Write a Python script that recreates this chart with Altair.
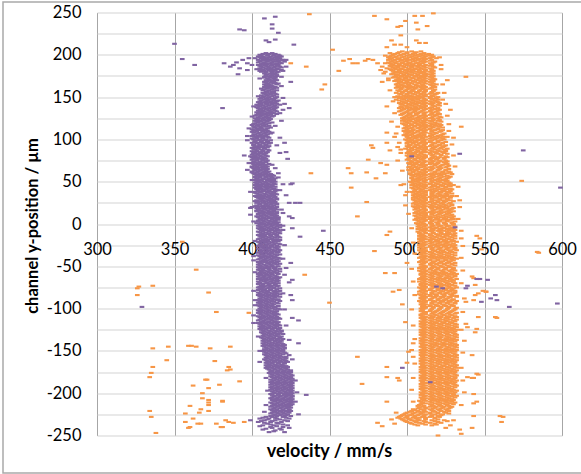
import altair as alt
import pandas as pd

# Axis ticks
x_ticks = [300, 350, 400, 450, 500, 550, 600]
y_ticks = [-250, -225, -200, -175, -150, -125, -100, -75, -50, -25, 0,
           25, 50, 75, 100, 125, 150, 175, 200, 225, 250]

# Purple series, dense band: "y: velocities at that y" (even y)
purple_band = [
    "202: 409 413", "200: 405 410 414 417", "198: 404 407 412 416 419",
    "196: 406 409 413 418", "194: 404 408 411 415 419", "192: 405 410 414 417",
    "190: 407 409 412 416 419", "188: 404 408 413 417", "186: 406 410 415 418",
    "184: 405 409 412 416", "182: 407 411 414 419", "180: 406 409 413 417",
    "178: 408 412 415", "176: 409 413 416", "174: 408 411 415", "172: 410 414",
    "170: 409 412 416", "168: 408 413", "166: 410 414 417", "164: 409 412",
    "162: 408 411 415", "160: 410 414", "158: 407 411 416", "156: 409 413",
    "154: 408 412 415", "152: 406 410 414", "150: 407 411 416", "148: 405 409 413",
    "146: 406 410 414 417", "144: 404 408 412 415", "142: 405 409 413 416",
    "140: 404 407 411 415", "138: 403 408 412 416", "136: 405 409 414",
    "134: 404 407 411 415", "132: 403 406 410 413", "130: 405 409 412 416",
    "128: 402 406 410 414", "126: 404 408 411", "124: 403 407 412",
    "122: 402 405 409", "120: 404 408 413", "118: 401 405 409", "116: 403 407 411",
    "114: 402 406 412", "112: 400 404 408", "110: 403 407 410",
    "108: 401 405 409 413", "106: 402 406 410", "104: 400 404 408",
    "102: 403 407 411", "100: 401 405 409", "98: 402 406 410",
    "96: 400 404 408 412", "94: 401 405 409", "92: 403 407 411", "90: 400 404 408",
    "88: 402 406 410", "86: 400 403 407", "84: 401 405 409", "82: 400 404 408",
    "80: 399 402 406 410", "78: 401 404 408", "76: 400 403 407", "74: 401 405 409",
    "72: 400 404 407", "70: 402 405 409", "68: 400 403 407 410", "66: 401 404 408",
    "64: 402 406 409", "62: 400 404 408 411", "60: 401 405 409",
    "58: 403 406 410 413", "56: 402 405 409 412", "54: 403 407 411 415",
    "52: 402 406 410 413", "50: 404 408 412 415", "48: 403 407 410 414",
    "46: 402 405 409 413", "44: 404 408 411 415", "42: 403 406 410 414",
    "40: 404 407 411 416", "38: 402 406 410 413", "36: 403 408 412 415",
    "34: 404 407 411 414", "32: 403 406 410 415", "30: 405 408 412 416",
    "28: 403 407 411 414", "26: 404 408 412 415", "24: 405 409 413 416",
    "22: 403 407 410 414", "20: 404 408 412 416", "18: 405 409 413 415",
    "16: 403 406 410 414", "14: 405 408 412 416", "12: 404 407 411 415",
    "10: 406 409 413 416", "8: 404 408 412 417", "6: 405 409 413 416",
    "4: 404 407 411 415", "2: 406 410 414 417", "0: 405 408 412 416",
    "-2: 404 409 413 417", "-4: 406 410 414 418", "-6: 405 408 412 416",
    "-8: 407 411 415 418", "-10: 405 409 413 417", "-12: 406 410 414",
    "-14: 405 408 412 416", "-16: 407 411 415 418", "-18: 404 408 412 416",
    "-20: 406 410 414 417", "-22: 405 409 413", "-24: 406 410 414 418",
    "-26: 404 408 412 416", "-28: 407 411 415", "-30: 405 409 413 417",
    "-32: 406 410 414", "-34: 404 408 412 416", "-36: 407 411 415 418",
    "-38: 405 409 413", "-40: 406 410 414 417", "-42: 404 408 412 416",
    "-44: 406 409 413 417", "-46: 405 410 414", "-48: 404 408 412 416",
    "-50: 406 410 413 417", "-52: 405 409 414", "-54: 404 407 411 415",
    "-56: 406 410 414 418", "-58: 405 408 412 416", "-60: 406 410 413",
    "-62: 404 408 412 416", "-64: 405 409 414 417", "-66: 406 410 413",
    "-68: 404 408 412 416", "-70: 405 409 413 417", "-72: 407 411 415",
    "-74: 405 408 412 416", "-76: 406 410 414 418", "-78: 404 408 412",
    "-80: 406 410 414 417", "-82: 405 409 413 416", "-84: 404 407 411 415",
    "-86: 406 410 414 418", "-88: 405 409 413", "-90: 404 408 412 416",
    "-92: 406 410 414", "-94: 405 409 413 417", "-96: 404 408 412",
    "-98: 406 410 415", "-100: 405 409 413 417", "-102: 404 407 411",
    "-104: 406 410 414", "-106: 405 409 413 416", "-108: 407 411 415",
    "-110: 405 408 412 416", "-112: 406 410 414 418", "-114: 404 408 413",
    "-116: 406 410 414 417", "-118: 405 409 413", "-120: 407 411 415 418",
    "-122: 406 410 414", "-124: 405 409 413 417", "-126: 407 411 415 419",
    "-128: 406 410 414", "-130: 408 412 416 420", "-132: 407 411 415",
    "-134: 406 410 414 418", "-136: 408 412 416 420", "-138: 407 411 415 419",
    "-140: 409 413 417", "-142: 408 412 416 420", "-144: 407 411 415 419",
    "-146: 409 413 417 421", "-148: 408 412 416", "-150: 407 411 415 419",
    "-152: 409 413 417 421", "-154: 408 412 416 420", "-156: 410 414 418",
    "-158: 409 413 417 421", "-160: 408 412 416 420", "-162: 410 414 418 422",
    "-164: 409 413 417 421", "-166: 411 415 419", "-168: 410 414 418 422",
    "-170: 409 413 417 421", "-172: 411 415 419 423", "-174: 412 416 420 424",
    "-176: 411 415 419 423", "-178: 413 417 421 425", "-180: 412 416 420 424",
    "-182: 414 418 422 425", "-184: 412 416 420 424", "-186: 413 417 421 425",
    "-188: 414 418 422 426", "-190: 412 416 420 424", "-192: 413 417 421 425",
    "-194: 414 418 422 426", "-196: 412 416 420 424", "-198: 413 417 421 425",
    "-200: 415 419 423 426", "-202: 413 417 421 425", "-204: 414 418 422 426",
    "-206: 412 416 420 424", "-208: 413 417 421 425", "-210: 415 419 423 426",
    "-212: 413 416 420 424", "-214: 414 418 422 425", "-216: 412 417 421 424",
    "-218: 414 418 422", "-220: 413 416 420 424", "-222: 415 419 423",
    "-224: 412 417 421", "-226: 414 418 422", "-228: 409 413 420",
    "-230: 405 411 416 424", "-232: 408 415 421", "-234: 404 412 419",
    "-236: 410 417", "-238: 407 414 423", "-240: 412 420", "-242: 409 418",
    "-244: 415", "-246: 411 421",
]

# Purple series, dense band (odd y)
purple_band_odd = [
    "201: 407 411 415", "199: 406 410 414 418", "197: 405 408 411 415 417",
    "195: 407 410 413 416", "193: 406 409 412 417", "191: 404 408 413 418",
    "189: 406 410 415", "187: 405 409 412 416", "185: 407 411 414 419",
    "183: 406 410 413 417", "181: 405 408 412 415", "179: 409 413 416",
    "177: 410 414", "175: 409 412 416", "173: 408 412 415", "171: 411 415",
    "169: 410 414", "167: 409 412 415", "165: 408 411 416", "163: 410 413",
    "161: 409 412 416", "159: 408 413", "157: 410 414", "155: 407 410 414",
    "153: 409 412 416", "151: 408 413", "149: 406 410 415", "147: 408 411 414",
    "145: 405 409 412 416", "143: 406 410 414", "141: 403 406 410 413",
    "139: 405 409 414", "137: 404 407 411 415", "135: 406 410 413",
    "133: 405 408 412 416", "131: 404 407 411 414", "129: 403 407 412",
    "127: 405 409 413", "125: 402 406 410", "123: 404 408 411",
    "121: 403 406 410", "119: 402 407 411", "117: 400 404 408",
    "115: 401 405 409", "113: 403 406 410", "111: 401 405 409",
    "109: 400 403 407 411", "107: 404 408 412", "105: 401 405 409",
    "103: 402 406 410", "101: 400 403 407", "99: 404 408 412", "97: 402 406 410",
    "95: 403 407 411", "93: 401 405 409", "91: 402 406 410", "89: 401 404 408",
    "87: 403 407 411", "85: 402 406 410", "83: 401 403 407", "81: 402 405 409",
    "79: 400 403 407", "77: 402 406 409", "75: 403 407 410", "73: 402 406 409",
    "71: 401 404 407 411", "69: 402 405 408", "67: 400 403 406 409",
    "65: 403 407 410", "63: 402 405 409", "61: 400 403 407 410",
    "59: 402 405 408 412", "57: 404 407 411 414", "55: 402 405 409 413",
    "53: 404 408 412 414", "51: 403 406 410 414", "49: 402 405 409 413",
    "47: 404 407 411 415", "45: 403 406 410 413", "43: 402 405 409 412",
    "41: 403 406 409 413 415", "39: 404 408 411 415", "37: 402 405 410 414",
    "35: 405 409 413 416", "33: 402 405 408 412", "31: 404 407 411 414",
    "29: 406 410 413 416", "27: 402 405 409 413", "25: 403 407 411 414",
    "23: 405 409 412 416", "21: 402 406 410 413", "19: 403 407 411 414",
    "17: 404 408 412 416", "15: 403 407 411 414", "13: 406 410 413 416",
    "11: 404 408 412 414", "9: 403 406 410 415", "7: 407 411 414 417",
    "5: 406 409 413 417", "3: 404 408 412 415", "1: 403 407 411 414",
    "-1: 406 410 415 418", "-3: 405 408 412 416", "-5: 404 407 411 415",
    "-7: 406 409 413 417", "-9: 404 407 411 415", "-11: 407 411 415 418",
    "-13: 404 408 412 416", "-15: 406 409 413 417", "-17: 405 409 413",
    "-19: 407 410 414 418", "-21: 404 408 411 415", "-23: 407 411 415 417",
    "-25: 405 409 413", "-27: 406 409 413 417", "-29: 404 408 411 416",
    "-31: 407 411 415 418", "-33: 405 409 413 417", "-35: 406 410 413",
    "-37: 404 408 412 416", "-39: 407 411 415", "-41: 405 409 413 418",
    "-43: 407 410 414", "-45: 404 408 412 416", "-47: 406 411 415 418",
    "-49: 405 409 413", "-51: 404 408 411 415", "-53: 407 411 415 418",
    "-55: 405 408 412 416", "-57: 407 411 415", "-59: 404 409 413 417",
    "-61: 405 408 411 415", "-63: 407 411 415 418", "-65: 404 408 412 416",
    "-67: 406 409 414 417", "-69: 405 410 414", "-71: 404 407 411 415",
    "-73: 406 410 413 417", "-75: 404 407 411 414", "-77: 405 408 412 416",
    "-79: 407 410 415 418", "-81: 404 408 411 415", "-83: 406 410 414 418",
    "-85: 405 409 413 416", "-87: 407 411 415", "-89: 406 410 414 417",
    "-91: 405 409 413 418", "-93: 404 407 411 416", "-95: 406 410 414",
    "-97: 405 409 413 417", "-99: 407 411 414", "-101: 406 410 415 418",
    "-103: 405 409 413 416", "-105: 404 407 411 415", "-107: 406 410 414 417",
    "-109: 404 409 413", "-111: 407 411 414 417", "-113: 405 409 412 416",
    "-115: 407 411 415", "-117: 404 408 412 416", "-119: 406 410 414 417",
    "-121: 405 408 412 416", "-123: 407 411 415 418", "-125: 406 409 413 417",
    "-127: 408 412 416 419", "-129: 407 411 415 418", "-131: 409 413 417",
    "-133: 408 412 416 419", "-135: 407 411 414 418", "-137: 409 413 417",
    "-139: 408 411 415 418", "-141: 407 411 415 419", "-143: 409 413 417 421",
    "-145: 408 412 416 420", "-147: 410 414 418 421", "-149: 409 413 417 420",
    "-151: 408 412 416 420", "-153: 410 414 418 422", "-155: 409 413 417",
    "-157: 411 415 419 422", "-159: 410 414 418 422", "-161: 409 413 417 421",
    "-163: 411 415 419 423", "-165: 410 413 417 421", "-167: 409 412 416 420",
    "-169: 411 416 420 423", "-171: 410 414 418 422", "-173: 413 417 421 425",
    "-175: 413 417 421 425", "-177: 412 416 420 424", "-179: 414 418 422 426",
    "-181: 413 417 421 425", "-183: 415 419 423 426", "-185: 414 418 422 426",
    "-187: 412 416 420 424", "-189: 413 417 421 425", "-191: 415 419 423 426",
    "-193: 412 416 420 424", "-195: 413 417 421 425", "-197: 415 419 423 426",
    "-199: 414 418 422 425", "-201: 412 417 421 424", "-203: 415 419 423 426",
    "-205: 413 417 421 425", "-207: 415 419 423 426", "-209: 414 418 422 425",
    "-211: 412 417 421 425", "-213: 415 419 423 426", "-215: 413 416 420 423",
    "-217: 415 419 423 425", "-219: 412 416 420 424", "-221: 414 418 422 425",
    "-223: 413 416 420 424", "-225: 415 419 423", "-227: 412 416 421 425",
    "-229: 407 415 422", "-231: 410 418", "-233: 406 413 423", "-235: 408 416",
    "-237: 412 420", "-239: 405 416", "-241: 413 424", "-243: 407 419",
    "-245: 414",
]

# Purple series, readings just outside the dense band (velocity, y)
purple_edge = [
    (402, 196), (421, 192), (403, 183), (422, 186), (405, 172), (419, 174),
    (406, 160), (419, 163), (404, 151), (420, 149), (401, 139), (418, 141),
    (400, 127), (419, 122), (398, 113), (415, 116), (397, 99), (416, 93),
    (398, 72), (413, 70), (397, 64), (415, 66), (400, 52), (417, 55),
    (399, 38), (418, 40), (400, 20), (419, 17), (401, 3), (420, -2),
    (402, -20), (421, -25), (401, -38), (420, -41), (402, -57), (421, -60),
    (401, -79), (420, -82), (402, -96), (421, -101), (401, -117), (422, -120),
    (404, -133), (424, -137), (405, -150), (424, -155), (405, -163),
    (426, -160), (409, -182), (428, -185), (410, -197), (429, -199),
    (409, -214), (428, -210), (408, -222), (430, -225),
]

# Purple series, isolated readings (velocity, y)
purple_stray = [
    (350, 213), (355, 195), (363, 188), (381, 137), (392, 230), (395, 229),
    (382, 190), (386, 186), (388, 188), (390, 191), (392, 184), (394, 194),
    (397, 190), (398, 196), (400, 188), (391, 177), (397, 182),
    (408, 243), (415, 245), (413, 236), (413, 231), (417, 226), (409, 217),
    (411, 215), (415, 218), (420, 181), (427, 212), (425, 168), (421, 142),
    (424, 137), (418, 131), (397, 104), (418, 102), (421, 96), (423, 77),
    (395, 81), (422, 85), (417, 60), (420, 47), (425, 47), (422, 34), (424, 25),
    (428, 25), (399, 19), (399, 11), (424, 9), (420, -7), (420, 194), (422, 194),
    (420, 135), (418, 84), (426, 48), (431, 25), (420, 13), (426, 7),
    (446, -8), (431, -15), (426, -5), (503, 80), (534, 83), (575, 87), (599, 43),
    (425, -46), (422, -52), (424, -69), (426, -66), (425, -84), (426, -90),
    (426, -111), (430, -114), (430, -141), (435, -202), (545, -65), (547, -65),
    (552, -66), (519, -74), (523, -76), (538, -76), (548, -92), (554, -88),
    (557, -84), (558, -90), (566, -98), (597, -94), (497, -170), (515, -187),
    (329, -98), (399, -232), (531, -4), (539, -73), (401, -43), (402, -90),
    (401, -108),
]

# Orange series, dense band (even y)
orange_band = [
    "204: 497 503 509", "202: 494 500 505 511", "200: 491 496 502 507 512 516",
    "198: 489 493 498 503 508 512 517", "196: 490 495 500 505 510 515",
    "194: 488 492 497 502 507 511 516", "192: 490 494 499 504 509 512 518",
    "190: 489 493 497 501 506 510 515", "188: 491 495 500 504 508 512 516",
    "186: 490 494 498 503 507 511 517", "184: 492 496 501 505 509 515",
    "182: 490 495 499 503 508 512 516", "180: 493 497 502 506 510 515",
    "178: 491 496 500 505 509 512 517", "176: 494 498 503 507 511 516",
    "174: 492 497 501 506 510 515", "172: 495 499 504 508 512 517",
    "170: 493 498 502 507 511 516", "168: 496 500 505 509 515",
    "166: 494 499 503 508 512 517", "164: 497 501 506 510 516",
    "162: 495 500 504 509 512 518", "160: 496 501 505 510 515",
    "158: 494 499 503 508 512 517", "156: 497 502 506 511 516",
    "154: 495 500 504 509 515 519", "152: 498 502 507 511 516",
    "150: 496 501 505 510 515 520", "148: 497 502 506 511 517",
    "146: 495 500 504 509 512 518", "144: 498 503 507 511 516 520",
    "142: 496 501 505 510 515", "140: 499 503 508 512 517 521",
    "138: 497 502 506 511 516", "136: 498 503 507 512 518",
    "134: 496 501 505 510 515 520", "132: 499 504 508 512 517",
    "130: 497 502 506 511 516 521", "128: 500 504 509 512 518",
    "126: 498 502 507 511 516 522", "124: 499 504 508 512 517",
    "122: 497 501 506 510 515 520", "120: 500 505 509 512 518",
    "118: 498 503 507 511 516 521", "116: 501 505 510 515 519",
    "114: 499 503 508 512 517 523", "112: 500 504 509 515 520",
    "110: 498 502 507 511 516 522", "108: 501 505 510 512 518",
    "106: 499 503 508 511 517 523", "104: 500 505 509 515 520",
    "102: 502 506 510 516 521", "100: 499 503 508 512 518 524",
    "98: 501 505 510 515 520", "96: 500 504 509 512 517 523",
    "94: 502 506 511 516 521", "92: 500 505 509 515 519 524",
    "90: 503 507 511 517 522", "88: 501 505 510 512 518 524",
    "86: 502 507 511 516 521 525", "84: 500 504 509 515 519 524",
    "82: 503 507 511 517 522", "80: 501 506 510 512 518 525",
    "78: 502 507 511 516 520 524", "76: 500 505 509 515 519",
    "74: 503 508 512 517 522 526", "72: 501 506 510 516 520 525",
    "70: 504 508 512 518 523", "68: 502 506 511 516 521 526",
    "66: 503 507 512 517 522", "64: 501 505 510 515 520 525",
    "62: 504 508 512 518 523 527", "60: 502 507 511 516 521 526",
    "58: 503 508 512 517 522", "56: 505 509 515 519 524 528",
    "54: 503 507 511 516 521 526", "52: 504 508 512 518 523",
    "50: 502 506 511 516 520 525", "48: 505 509 515 519 524 528",
    "46: 503 508 512 517 522 527", "44: 506 510 516 520 525",
    "42: 504 508 512 518 523 528", "40: 505 509 515 519 524",
    "38: 503 507 511 516 521 526", "36: 506 510 516 520 525 529",
    "34: 504 509 512 518 523", "32: 505 510 515 519 524 528",
    "30: 507 511 516 521 526", "28: 505 509 512 518 523 528",
    "26: 506 510 515 520 524", "24: 504 508 512 517 522 527",
    "22: 507 511 516 521 525 529", "20: 505 510 515 519 524",
    "18: 506 511 516 520 525 529", "16: 508 512 517 522 527",
    "14: 506 510 515 519 524 528", "12: 507 511 516 521 526",
    "10: 505 509 512 518 523 528", "8: 508 512 517 522 527",
    "6: 506 511 515 520 525 530", "4: 507 512 516 521 526",
    "2: 509 515 519 524 529", "0: 507 511 516 520 525 530",
    "-2: 508 512 517 522 527", "-4: 509 515 519 524 529",
    "-6: 507 511 516 521 526 530", "-8: 510 515 520 524 529",
    "-10: 508 512 517 522 527", "-12: 509 515 519 523 528",
    "-14: 508 511 516 521 526 531", "-16: 510 515 519 524 529",
    "-18: 508 512 517 522 527", "-20: 509 515 520 525 530",
    "-22: 511 516 521 526", "-24: 509 512 518 523 528",
    "-26: 510 515 519 524 529", "-28: 508 512 517 522 527 531",
    "-30: 510 516 520 525 530", "-32: 509 512 518 523 528",
    "-34: 511 516 521 526 531", "-36: 509 515 519 524 529",
    "-38: 510 512 517 522 527", "-40: 508 511 516 521 526 530",
    "-42: 510 515 520 525 529", "-44: 509 512 518 523 528",
    "-46: 511 516 521 526 531", "-48: 509 515 519 524 529",
    "-50: 510 512 517 522 527", "-52: 508 511 516 520 525 530",
    "-54: 510 515 519 524 529", "-56: 509 512 518 523 528",
    "-58: 511 516 521 525 530", "-60: 509 515 520 524 529",
    "-62: 510 512 517 522 527 531", "-64: 509 511 516 521 526",
    "-66: 510 515 520 524 529", "-68: 508 512 518 523 528",
    "-70: 511 516 521 526 531", "-72: 509 515 519 524 529",
    "-74: 510 512 517 522 527", "-76: 509 511 516 521 526 530",
    "-78: 510 515 520 525 529", "-80: 508 512 518 523 528",
    "-82: 511 516 521 525 530", "-84: 509 515 519 524 529",
    "-86: 510 512 517 522 527 532", "-88: 509 511 516 521 526",
    "-90: 511 515 520 524 529", "-92: 509 512 518 523 528",
    "-94: 510 516 521 526 531", "-96: 511 515 519 524 529",
    "-98: 510 512 517 522 527", "-100: 509 511 516 521 526 531",
    "-102: 510 515 520 525 530", "-104: 511 512 518 523 528",
    "-106: 510 516 521 526 531", "-108: 509 515 519 524 529",
    "-110: 511 512 517 522 527 532", "-112: 510 511 516 521 526",
    "-114: 511 515 520 525 530", "-116: 510 512 518 523 528",
    "-118: 509 516 521 526 531", "-120: 511 515 519 524 529",
    "-122: 510 512 517 522 527 532", "-124: 511 516 521 526 530",
    "-126: 510 515 520 525 529", "-128: 509 512 518 523 528",
    "-130: 511 516 521 526 531", "-132: 510 515 519 524 529",
    "-134: 511 512 517 522 527 532", "-136: 510 516 521 526 530",
    "-138: 509 515 520 525 529", "-140: 511 512 518 523 528",
    "-142: 510 516 521 526 531", "-144: 511 515 519 524 529",
    "-146: 510 512 517 522 527 532", "-148: 511 516 521 526 530",
    "-150: 510 515 520 525 529", "-152: 509 512 518 523 528",
    "-154: 511 516 521 526 531", "-156: 510 515 519 524 529",
    "-158: 511 512 517 522 527 532", "-160: 510 516 521 526 530",
    "-162: 509 515 520 525 529", "-164: 511 512 518 523 528",
    "-166: 510 516 521 526 531", "-168: 511 515 519 524 529",
    "-170: 510 512 517 522 527 532", "-172: 509 516 521 526 530",
    "-174: 511 515 520 525 529", "-176: 510 512 518 523 528",
    "-178: 511 516 521 526 531", "-180: 510 515 519 524 529",
    "-182: 509 512 517 522 527 531", "-184: 511 516 521 526 530",
    "-186: 510 515 520 525 529", "-188: 511 512 518 523 528",
    "-190: 510 516 521 526 531", "-192: 509 515 519 524 529",
    "-194: 511 512 517 522 527", "-196: 510 516 521 526 530",
    "-198: 511 515 520 525 529", "-200: 510 512 518 523 528",
    "-202: 509 516 521 526 530", "-204: 511 515 519 524 529",
    "-206: 510 512 517 522 527", "-208: 511 516 521 526 530",
    "-210: 509 515 520 525 529", "-212: 510 512 518 523 528",
    "-214: 508 516 521 526", "-216: 510 515 519 524 529",
    "-218: 507 512 517 522 527", "-220: 505 511 516 521 526",
    "-222: 502 508 512 518 524", "-224: 499 504 509 515 520 527",
    "-226: 497 502 507 511 516 522", "-228: 495 500 505 510 515 521",
    "-230: 496 501 506 512 518", "-232: 498 503 508 516 524",
    "-234: 500 506 512 520", "-236: 503 510 518", "-238: 507 516",
]

# Orange series, dense band (odd y)
orange_band_odd = [
    "203: 495 500 506", "201: 492 498 504 509 514", "199: 490 495 500 505 510 515",
    "197: 488 492 497 502 506 511 516", "195: 489 494 499 504 508 512",
    "193: 491 496 500 505 510 515", "191: 488 492 497 502 507 511 517",
    "189: 490 495 499 503 508 516", "187: 489 493 497 502 506 510 515",
    "185: 491 494 499 503 508 512 518", "183: 489 493 497 502 506 511 516",
    "181: 491 495 500 504 508 512 517", "179: 492 495 499 503 508 511 516",
    "177: 490 493 498 502 507 512 515", "175: 493 496 500 505 509 512 517",
    "173: 491 494 499 503 508 511 516", "171: 494 497 501 506 510 515 518",
    "169: 492 495 500 504 509 512 517", "167: 495 498 502 507 511 516",
    "165: 493 496 501 505 510 515 519", "163: 494 498 502 507 511 517",
    "161: 493 497 502 506 511 516", "159: 496 500 504 509 512 518",
    "157: 495 499 504 508 512 517", "155: 493 497 502 507 511 516 520",
    "153: 496 500 505 509 512 518", "151: 494 499 503 508 512 517",
    "149: 495 499 504 508 515 519", "147: 493 498 503 507 512 516 520",
    "145: 497 501 506 510 515 519", "143: 495 499 504 508 512 517 521",
    "141: 497 502 506 511 516 520", "139: 496 500 505 509 512 518",
    "137: 495 500 505 509 515 520", "135: 497 502 506 511 516 521",
    "133: 495 500 505 509 515 519", "131: 498 502 507 511 516 520",
    "129: 496 501 506 511 515 519", "127: 499 503 508 512 517 521",
    "125: 497 501 505 510 515 520", "123: 498 502 507 512 517 521",
    "121: 499 503 507 511 516 522", "119: 497 501 506 510 515 519",
    "117: 499 503 508 512 518 522", "115: 500 505 509 512 516 521",
    "113: 498 502 507 511 515 520", "111: 500 504 509 512 518 523",
    "109: 499 503 507 511 516 521", "107: 500 504 509 515 519 524",
    "105: 498 502 507 511 516 522", "103: 500 504 508 512 518 523",
    "101: 501 505 510 515 519 523", "99: 500 503 507 511 516 522",
    "97: 502 506 511 515 520 525", "95: 500 504 508 512 518 523",
    "93: 502 507 511 516 521 525", "91: 501 505 509 512 518 523",
    "89: 499 503 508 512 516 521 526", "87: 503 507 511 515 520 525",
    "85: 501 506 510 512 518 523", "83: 502 505 509 515 520 526",
    "81: 500 504 508 512 516 522", "79: 503 508 512 517 521 526",
    "77: 501 505 510 515 519 524", "75: 502 506 511 516 521 525",
    "73: 503 507 511 515 520 524", "71: 502 505 510 515 519 526",
    "69: 504 509 512 518 522 527", "67: 501 505 509 515 520 525",
    "65: 503 507 512 516 521 527", "63: 502 506 511 515 520 525",
    "61: 504 509 512 518 523 528", "59: 502 506 510 515 519 524",
    "57: 504 507 511 516 521 526", "55: 503 508 512 517 522 527",
    "53: 505 509 515 520 525", "51: 504 507 511 516 521 526",
    "49: 503 508 512 517 522 527", "47: 504 507 511 515 520 525",
    "45: 505 509 512 518 523 528", "43: 503 507 511 515 520 525",
    "41: 506 510 516 521 526 529", "39: 505 509 512 518 523 528",
    "37: 504 508 512 517 522 527", "35: 505 508 512 516 521 526",
    "33: 507 511 516 521 526 529", "31: 506 509 512 518 523 528",
    "29: 504 508 512 516 521 526", "27: 507 511 516 520 525 530",
    "25: 505 509 512 518 523 528", "23: 506 510 515 519 524 529",
    "21: 504 508 512 517 522 527", "19: 507 511 516 521 526 530",
    "17: 505 509 512 518 523 528", "15: 507 511 516 521 526 530",
    "13: 505 509 512 517 522 527", "11: 508 512 516 520 525 529",
    "9: 506 511 515 520 525 530", "7: 507 510 515 519 524 529",
    "5: 505 509 512 518 523 528", "3: 508 511 516 521 526 531",
    "1: 506 510 515 520 524 529", "-1: 509 512 516 520 525 530",
    "-3: 507 511 516 521 526 531", "-5: 508 512 518 523 528",
    "-7: 509 512 517 522 527 531", "-9: 507 511 516 521 526 530",
    "-11: 508 512 517 522 526 531", "-13: 510 515 520 525 530",
    "-15: 509 512 518 523 528", "-17: 508 511 516 521 526 531",
    "-19: 510 515 519 524 529", "-21: 508 512 518 523 528 532",
    "-23: 510 515 520 525 530", "-25: 508 511 516 521 526 531",
    "-27: 509 515 520 525 530", "-29: 511 516 521 526 531",
    "-31: 508 512 517 522 527 532", "-33: 510 515 520 524 529",
    "-35: 509 512 517 522 527", "-37: 511 516 521 526 531",
    "-39: 509 515 519 524 529", "-41: 511 512 518 523 528 532",
    "-43: 510 515 520 525 530", "-45: 508 512 517 522 527",
    "-47: 510 515 519 524 529", "-49: 511 516 521 526 531",
    "-51: 509 512 518 523 528", "-53: 511 515 520 525 530",
    "-55: 508 512 517 522 527 531", "-57: 510 515 519 524 529",
    "-59: 509 512 518 523 527 532", "-61: 511 516 521 526 531",
    "-63: 510 515 520 525 529", "-65: 508 512 518 523 528 532",
    "-67: 511 516 521 526 530", "-69: 510 515 520 525 530",
    "-71: 509 512 517 522 527", "-73: 511 516 521 526 531",
    "-75: 508 512 518 523 528 532", "-77: 511 515 520 524 529",
    "-79: 509 512 517 522 527 531", "-81: 510 516 521 526 531",
    "-83: 508 512 518 523 528", "-85: 511 515 519 524 529 532",
    "-87: 509 512 518 523 528", "-89: 510 515 520 525 530",
    "-91: 508 512 517 522 527 532", "-93: 511 516 521 526 531",
    "-95: 509 512 518 523 528", "-97: 510 515 520 525 530",
    "-99: 511 512 517 522 527 532", "-101: 510 516 521 526 531",
    "-103: 509 515 519 524 529", "-105: 511 512 517 522 527 532",
    "-107: 509 512 518 523 528", "-109: 510 516 521 526 531",
    "-111: 509 515 520 525 530", "-113: 511 512 518 523 528 532",
    "-115: 509 516 521 526 531", "-117: 511 515 519 524 529",
    "-119: 510 512 517 522 527 532", "-121: 509 516 521 526 531",
    "-123: 511 515 519 524 529", "-125: 509 512 518 523 528 532",
    "-127: 511 516 521 526 531", "-129: 510 515 520 525 530",
    "-131: 509 512 517 522 527 532", "-133: 511 516 521 526 531",
    "-135: 509 515 520 525 529", "-137: 511 512 518 523 528 532",
    "-139: 510 516 521 526 531", "-141: 509 515 519 524 529",
    "-143: 510 512 518 523 528 532", "-145: 509 516 521 526 531",
    "-147: 511 515 520 525 529", "-149: 509 512 518 523 528 532",
    "-151: 511 516 521 526 531", "-153: 510 515 520 525 530",
    "-155: 509 512 517 522 527 532", "-157: 510 516 521 526 531",
    "-159: 509 515 519 524 529", "-161: 511 512 518 523 528 532",
    "-163: 510 516 521 526 531", "-165: 509 515 520 525 530",
    "-167: 510 512 518 523 528 532", "-169: 509 516 521 526 531",
    "-171: 511 515 519 524 529", "-173: 510 512 518 523 528 532",
    "-175: 509 516 521 526 531", "-177: 511 515 520 525 530",
    "-179: 509 512 517 522 527 532", "-181: 511 516 521 526 531",
    "-183: 510 515 519 524 529", "-185: 509 512 518 523 528 532",
    "-187: 510 516 521 526 531", "-189: 509 515 520 525 530",
    "-191: 511 512 517 522 527 532", "-193: 510 516 521 526 531",
    "-195: 509 515 519 524 529", "-197: 511 512 518 523 528 532",
    "-199: 509 516 521 526 531", "-201: 510 515 520 525 530",
    "-203: 511 512 517 522 527 532", "-205: 509 516 521 526 531",
    "-207: 510 515 519 524 529", "-209: 508 512 518 523 528",
    "-211: 510 516 521 526 531", "-213: 509 515 520 525 530",
    "-215: 507 511 517 522 527", "-217: 508 512 518 523 528",
    "-219: 504 509 515 520 525", "-221: 503 507 511 517 522 527",
    "-223: 500 505 510 515 520 525", "-225: 498 503 508 512 518 523",
    "-227: 496 500 505 511 516 520", "-229: 494 499 504 508 512 518",
    "-231: 497 502 507 512 520", "-233: 499 505 511 518 526",
    "-235: 502 508 515 522", "-237: 505 512 519",
]

# Orange series, readings just outside the dense band (velocity, y)
orange_edge = [
    (486, 199), (521, 197), (486, 180), (522, 183), (488, 172), (523, 165),
    (489, 158), (524, 155), (491, 145), (525, 142), (492, 131), (526, 128),
    (490, 121), (527, 118), (493, 107), (527, 110), (495, 96), (529, 94),
    (496, 88), (530, 81), (494, 75), (531, 68), (497, 63), (529, 59),
    (498, 47), (533, 44), (500, 38), (532, 33), (499, 22), (534, 20),
    (501, 12), (533, 6), (503, -5), (535, -8), (504, -22), (536, -26),
    (505, -35), (535, -40), (503, -53), (536, -55), (504, -68), (535, -70),
    (505, -84), (537, -88), (503, -101), (536, -104), (504, -120),
    (535, -125), (505, -136), (537, -138), (503, -149), (536, -152),
    (505, -165), (535, -170), (504, -182), (536, -185), (503, -196),
    (537, -199), (504, -210), (535, -214), (490, -231), (492, -236),
    (530, -232), (528, -238),
]

# Orange series, isolated readings (velocity, y)
orange_stray = [
    (437, 248), (479, 246), (487, 242), (505, 246), (510, 246), (517, 249),
    (499, 240), (506, 238), (513, 234), (507, 230), (494, 233), (496, 234),
    (496, 223), (490, 217), (492, 212), (496, 212), (500, 209), (506, 217),
    (508, 214), (512, 214), (487, 209), (489, 202), (452, 206),
    (459, 193), (463, 195), (465, 190), (468, 190), (456, 181), (473, 193),
    (475, 195), (478, 194), (481, 190), (484, 186), (483, 182), (486, 190),
    (487, 184), (485, 178), (484, 168), (488, 170), (435, 186), (447, 165),
    (445, 159), (519, 196), (522, 188), (526, 170), (538, 174), (523, 147),
    (528, 135), (487, 139), (492, 150), (535, 115), (494, 115), (487, 108),
    (492, 103), (526, 103), (530, 102), (477, 93), (478, 90), (487, 96),
    (489, 87), (494, 91), (496, 84), (475, 76), (483, 72), (487, 70),
    (462, 66), (464, 60), (474, 61), (480, 54), (486, 60), (438, 60),
    (464, 43), (468, 9), (474, 26), (496, 46), (499, 34), (504, 31),
    (530, 46), (534, 28), (489, -9), (487, -13), (574, 51), (425, 190),
    (434, -60), (450, -93), (468, -157), (471, -189), (487, -210), (481, -235),
    (484, -239), (493, -223), (487, -169), (487, -181), (494, -182),
    (495, -185), (500, -164), (486, -58), (492, -58), (491, -80), (495, -78),
    (499, -116), (501, -151), (504, -157), (497, -95), (504, -141),
    (500, -46), (479, -32), (585, -34), (545, -14), (547, -17), (535, -17),
    (542, -62), (546, -82), (551, -80), (538, -92), (558, -111), (546, -110),
    (538, -118), (539, -122), (545, -124), (544, -128), (542, -155),
    (539, -181), (542, -182), (546, -178), (543, -212), (562, -228),
    (561, -234), (542, -241), (534, -243), (535, -248), (520, -250),
    (525, -241), (326, -76), (327, -74), (326, -84), (336, -73), (364, -54),
    (372, -81), (377, -104), (398, -105), (336, -147), (346, -145),
    (345, -161), (359, -144), (361, -144), (364, -145), (373, -147),
    (386, -145), (376, -162), (385, -169), (386, -172), (384, -173),
    (336, -169), (335, -176), (334, -181), (392, -186), (370, -184),
    (371, -184), (379, -190), (362, -191), (372, -194), (368, -200),
    (368, -206), (372, -208), (372, -211), (372, -214), (381, -210),
    (381, -209), (360, -215), (367, -219), (366, -223), (372, -221),
    (334, -221), (335, -228), (338, -247), (357, -224), (362, -230),
    (357, -234), (359, -241), (360, -240), (365, -236), (367, -236),
    (377, -236), (380, -240), (383, -232), (381, -240), (388, -235),
    (385, -234), (395, -234), (355, -21), (543, -64), (544, -72), (549, -79),
    (551, -80), (544, -84), (543, -90), (557, -110), (584, -33), (548, -30),
    (545, -177), (543, -182), (543, -201), (545, -210), (543, -227),
    (560, -227),
]

PURPLE = "#8064A2"
ORANGE = "#F79646"


def band_points(rows):
    pts = []
    for row in rows:
        y, xs = row.split(":")
        pts.extend((float(x), float(y)) for x in xs.split())
    return pts


orange_pts = (band_points(orange_band) + band_points(orange_band_odd)
              + orange_edge + orange_stray)
purple_pts = (band_points(purple_band) + band_points(purple_band_odd)
              + purple_edge + purple_stray)

records = [{"velocity": v, "ypos": y, "series": "orange"} for v, y in orange_pts]
records += [{"velocity": v, "ypos": y, "series": "purple"} for v, y in purple_pts]
df = pd.DataFrame(records)

FONT = "Lato"
DASH = "M-1,-0.45H1V0.45H-1Z"

x_enc = alt.X(
    "velocity:Q",
    scale=alt.Scale(domain=[300, 600], nice=False, zero=False),
    axis=alt.Axis(
        values=x_ticks, grid=True, gridColor="#a6a6a6", gridWidth=1,
        domain=False, ticks=False, tickSize=0, offset=-211.5, labelPadding=17,
        labelFlush=False, labelOverlap=False,
        labelFont=FONT, labelFontSize=16.5, labelColor="#000000", title=None,
    ),
)
y_enc = alt.Y(
    "ypos:Q",
    scale=alt.Scale(domain=[-250, 250], nice=False, zero=False),
    axis=alt.Axis(
        values=y_ticks, grid=True, gridColor="#d4d4d4", gridWidth=1.2,
        domain=False, ticks=False, tickSize=0, labelPadding=16,
        labelFlush=False, labelOverlap=False,
        labelExpr="datum.value % 50 == 0 ? '' + datum.value : ''",
        labelFont=FONT, labelFontSize=16.5, labelColor="#000000",
        title="channel y-position / µm", titleFont=FONT, titleFontSize=16.5,
        titleFontWeight="bold", titleColor="#000000", titleX=-59.5,
        titleY=213, titleBaseline="alphabetic", titleAngle=-90,
    ),
)

points = alt.Chart(df).mark_point(
    shape=DASH, filled=True, size=22, opacity=1, strokeWidth=0
).encode(
    x=x_enc,
    y=y_enc,
    color=alt.Color(
        "series:N",
        scale=alt.Scale(domain=["orange", "purple"], range=[ORANGE, PURPLE]),
        legend=None,
    ),
    order=alt.Order("series:N", sort="ascending"),
)

# thin frame around the whole figure
frame = alt.Chart(pd.DataFrame({"k": [0]})).mark_rect(
    fill=None, stroke="#a9a9a9", strokeWidth=1.5
).encode(
    x=alt.value(-94), x2=alt.value(495), y=alt.value(-10.5), y2=alt.value(460.5)
)

chart = alt.layer(points, frame).properties(
    width=465,
    height=423,
    autosize=alt.AutoSizeParams(type="none"),
    padding={"left": 97, "top": 12.5, "right": 19, "bottom": 38.5},
    title=alt.TitleParams(
        "velocity / mm/s", orient="bottom", anchor="middle", font=FONT,
        fontSize=18, fontWeight="bold", color="#000000", offset=-31,
    ),
    background="#ffffff",
).configure_view(stroke=None)

chart.save("out.html", embed_options={"renderer": "svg", "actions": False})
